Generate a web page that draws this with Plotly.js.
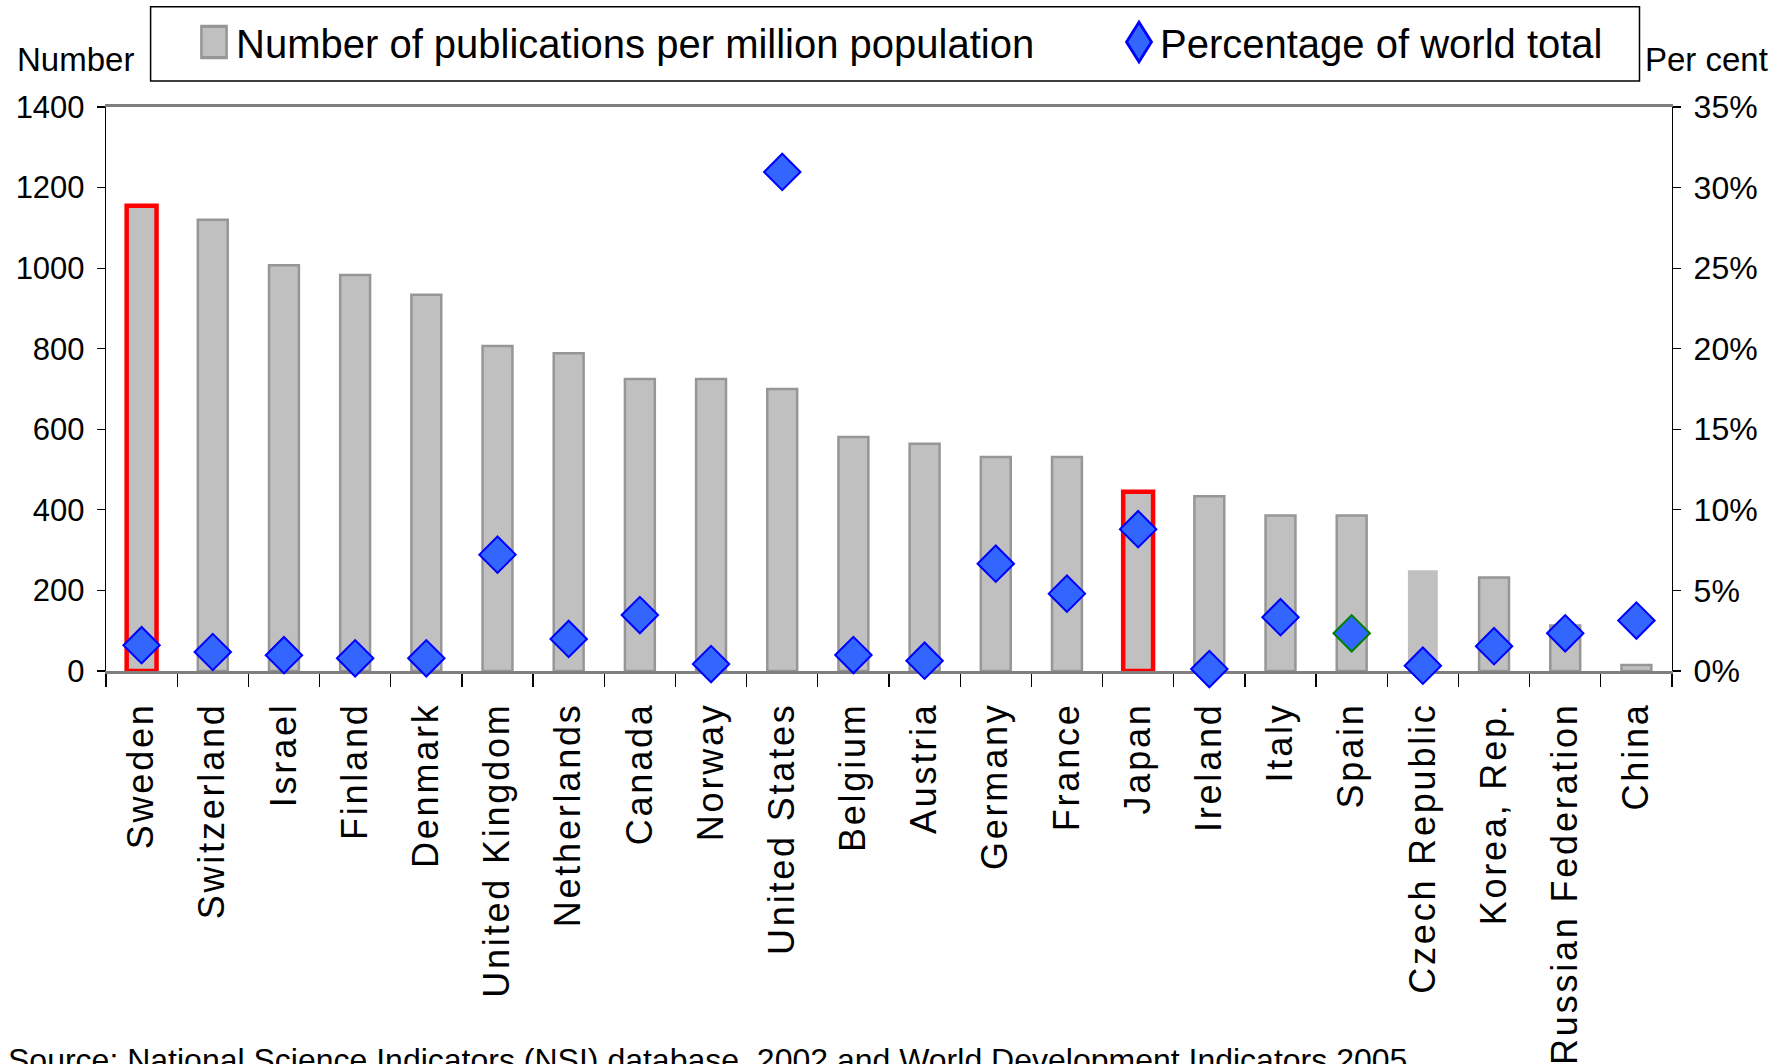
<!DOCTYPE html>
<html><head><meta charset="utf-8">
<script src="https://cdn.plot.ly/plotly-3.0.1.min.js"></script>
<style>
html,body{margin:0;padding:0;background:#fff;}
#chart{width:1789px;height:1064px;}
.xtick text{letter-spacing:2.8px;}
.legend .legendpoints path{stroke:#969696 !important;stroke-width:1.2px !important;scale:2.1 2.6;translate:-24px 0;}
.legend2 .legendpoints path{scale:1.2 1.9;translate:-5px 0;}
</style></head><body><div id="chart"></div>
<script>
// ---- data ----
const categories = ['Sweden','Switzerland','Israel','Finland','Denmark','United Kingdom','Netherlands','Canada','Norway','United States','Belgium','Austria','Germany','France','Japan','Ireland','Italy','Spain','Czech Republic','Korea, Rep.','Russian Federation','China'];
const publicationsPerMillion = [1155,1120,1007,983,934,807,789,725,725,700,581,564,531,531,445,434,386,386,250,232,113,15];
const percentOfWorldTotal = [1.6,1.18,0.98,0.79,0.79,7.22,1.99,3.47,0.43,30.97,0.99,0.64,6.66,4.8,8.8,0.12,3.34,2.34,0.33,1.54,2.34,3.13];
const leftTickValues = [0,200,400,600,800,1000,1200,1400];
const rightTickValues = [0,5,10,15,20,25,30,35];
const rightTickLabels = ['0%','5%','10%','15%','20%','25%','30%','35%'];
const barSeriesName = 'Number of publications per million population';
const pointSeriesName = 'Percentage of world total';
const leftAxisLabel = 'Number';
const rightAxisLabel = 'Per cent';
const sourceNote = 'Source: National Science Indicators (NSI) database, 2002 and World Development Indicators 2005';
const highlighted = ['Sweden','Japan'];
const unframed = ['Czech Republic'];
const greenOutlined = ['Spain'];

// ---- style ----
const W = 1789, H = 1064;
const L = 106, R = 1672, T = 107, B = 671;
const SANS = "'Liberation Sans', Arial, sans-serif";
const px = x => (x - L) / (R - L);
const py = y => (B - y) / (B - T);

const barLineColors = categories.map(c => highlighted.includes(c) ? '#ff0000' : (unframed.includes(c) ? 'rgba(0,0,0,0)' : '#969696'));
const barLineWidths = categories.map(c => highlighted.includes(c) ? 4.5 : (unframed.includes(c) ? 0 : 2.5));
const ptLineColors = categories.map(c => greenOutlined.includes(c) ? '#008000' : '#0000ff');

const traces = [
  {
    type: 'bar', name: barSeriesName, x: categories, y: publicationsPerMillion,
    marker: {color: '#c0c0c0', line: {color: barLineColors, width: barLineWidths}},
    legend: 'legend', hoverinfo: 'skip'
  },
  {
    type: 'scatter', mode: 'markers', name: pointSeriesName, x: categories, y: percentOfWorldTotal,
    yaxis: 'y2', cliponaxis: false,
    marker: {symbol: 'diamond', size: 28, color: '#3366ff', line: {color: ptLineColors, width: 2}},
    legend: 'legend2', hoverinfo: 'skip'
  }
];

const legendBase = {
  xref: 'container', yref: 'container', xanchor: 'left', yanchor: 'middle',
  orientation: 'h', bgcolor: 'rgba(0,0,0,0)', borderwidth: 0,
  font: {family: SANS, size: 40, color: '#000'}, y: 1 - 42 / H
};

const layout = {
  width: W, height: H,
  margin: {l: L, r: W - R, t: T, b: H - B, autoexpand: false},
  paper_bgcolor: '#fff', plot_bgcolor: '#fff',
  showlegend: true,
  bargap: 0.58,
  legend: Object.assign({}, legendBase, {x: 196 / W}),
  legend2: Object.assign({}, legendBase, {x: 1120 / W}),
  xaxis: {
    type: 'category', range: [-0.5, categories.length - 0.5],
    showline: true, linecolor: '#7f7f7f', linewidth: 3, mirror: true,
    ticks: 'outside', tickson: 'boundaries', ticklen: 13, tickcolor: '#000', tickwidth: 1.2,
    tickangle: -90, ticklabelstandoff: 14,
    tickfont: {family: SANS, size: 36, color: '#000'},
    showgrid: false, zeroline: false, layer: 'below traces', fixedrange: true
  },
  yaxis: {
    range: [0, 1400], tickvals: leftTickValues, ticktext: leftTickValues.map(String),
    showline: true, linecolor: '#000', linewidth: 1.2,
    ticks: 'outside', ticklen: 8, tickcolor: '#000', tickwidth: 1.2, ticklabelstandoff: 6,
    tickfont: {family: SANS, size: 31, color: '#000'},
    showgrid: false, zeroline: false, layer: 'below traces', fixedrange: true
  },
  yaxis2: {
    overlaying: 'y', side: 'right', range: [0, 35], tickvals: rightTickValues, ticktext: rightTickLabels,
    showline: true, linecolor: '#000', linewidth: 1.2,
    ticks: 'outside', ticklen: 8, tickcolor: '#000', tickwidth: 1.2, ticklabelstandoff: 6,
    tickfont: {family: SANS, size: 32, color: '#000'},
    showgrid: false, zeroline: false, layer: 'below traces', fixedrange: true
  },
  shapes: [
    {type: 'rect', xref: 'paper', yref: 'paper', x0: px(150.6), x1: px(1639.5), y0: py(81), y1: py(6.8),
     line: {color: '#000', width: 1.5}, fillcolor: 'rgba(0,0,0,0)', layer: 'below'}
  ],
  annotations: [
    {xref: 'paper', yref: 'paper', x: px(15), y: py(59), xanchor: 'left', yanchor: 'middle', showarrow: false,
     text: leftAxisLabel, font: {family: SANS, size: 33, color: '#000'}},
    {xref: 'paper', yref: 'paper', x: px(1643), y: py(59), xanchor: 'left', yanchor: 'middle', showarrow: false,
     text: rightAxisLabel, font: {family: SANS, size: 33, color: '#000'}},
    {xref: 'paper', yref: 'paper', x: px(6), y: py(1040), xanchor: 'left', yanchor: 'top', showarrow: false,
     text: sourceNote, font: {family: SANS, size: 32, color: '#000'}}
  ]
};

Plotly.newPlot('chart', traces, layout, {staticPlot: true, displayModeBar: false});
</script></body></html>
